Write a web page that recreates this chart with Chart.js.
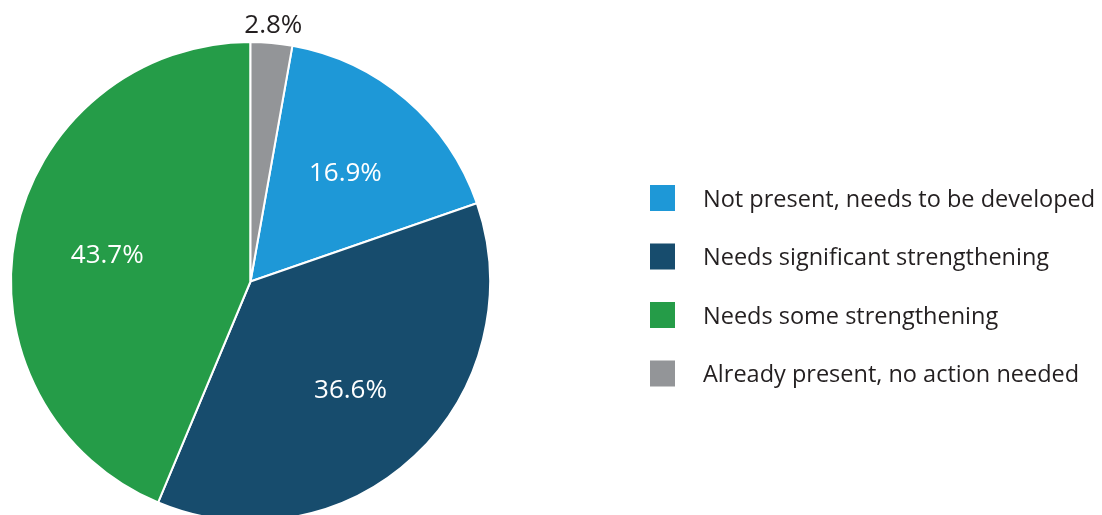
<!DOCTYPE html>
<html>
<head>
<meta charset="utf-8">
<script src="https://cdn.jsdelivr.net/npm/chart.js@4"></script>
<style>
  html, body { margin: 0; padding: 0; background: #fff; overflow: hidden; }
  #wrap { width: 1102px; height: 530px; position: relative; }
</style>
</head>
<body>
<div id="wrap"><canvas id="pieChart"></canvas></div>
<script>
const labels = [
  "Not present, needs to be developed",
  "Needs significant strengthening",
  "Needs some strengthening",
  "Already present, no action needed",
];
const values = [16.9, 36.6, 43.7, 2.8];
const colors = ["#1e98d7", "#174c6d", "#259c48", "#939598"];

const FONT = "'Open Sans', 'Noto Sans', sans-serif";

// percent labels inside the slices, small ones go outside
const sliceLabels = {
  id: "sliceLabels",
  afterDatasetsDraw(chart) {
    const ctx = chart.ctx;
    const meta = chart.getDatasetMeta(0);
    ctx.save();
    ctx.font = "26px " + FONT;
    ctx.textAlign = "center";
    ctx.textBaseline = "middle";
    meta.data.forEach((arc, i) => {
      const mid = (arc.startAngle + arc.endAngle) / 2;
      let r, color;
      if (values[i] < 5) {
        r = arc.outerRadius + 20;
        color = "#231f20";
      } else {
        r = arc.outerRadius * 0.61;
        color = "#ffffff";
      }
      ctx.fillStyle = color;
      ctx.fillText(values[i].toFixed(1) + "%", arc.x + Math.cos(mid) * r, arc.y + Math.sin(mid) * r + 3);
    });
    ctx.restore();
  },
};

// legend on the right
const sideLegend = {
  id: "sideLegend",
  afterDraw(chart) {
    const ctx = chart.ctx;
    ctx.save();
    ctx.font = "23.5px " + FONT;
    ctx.textBaseline = "middle";
    ctx.textAlign = "left";
    labels.forEach((label, i) => {
      const y = 198 + i * 58.5;
      ctx.fillStyle = colors[i];
      ctx.fillRect(650, y - 13, 25, 26);
      ctx.fillStyle = "#231f20";
      ctx.fillText(label, 703, y + 2);
    });
    ctx.restore();
  },
};

const pieChart = new Chart(document.getElementById("pieChart").getContext("2d"), {
  type: "pie",
  data: {
    labels: labels,
    datasets: [
      {
        data: values,
        backgroundColor: colors,
        borderColor: "#ffffff",
        borderWidth: 2,
      },
    ],
  },
  options: {
    responsive: true,
    maintainAspectRatio: false,
    animation: false,
    rotation: (2.8 / 100) * 360,
    layout: {
      padding: { left: 10, right: 611, top: 41, bottom: 8 },
    },
    plugins: {
      legend: { display: false },
      tooltip: { enabled: false },
    },
  },
  plugins: [sliceLabels, sideLegend],
});
</script>
</body>
</html>
